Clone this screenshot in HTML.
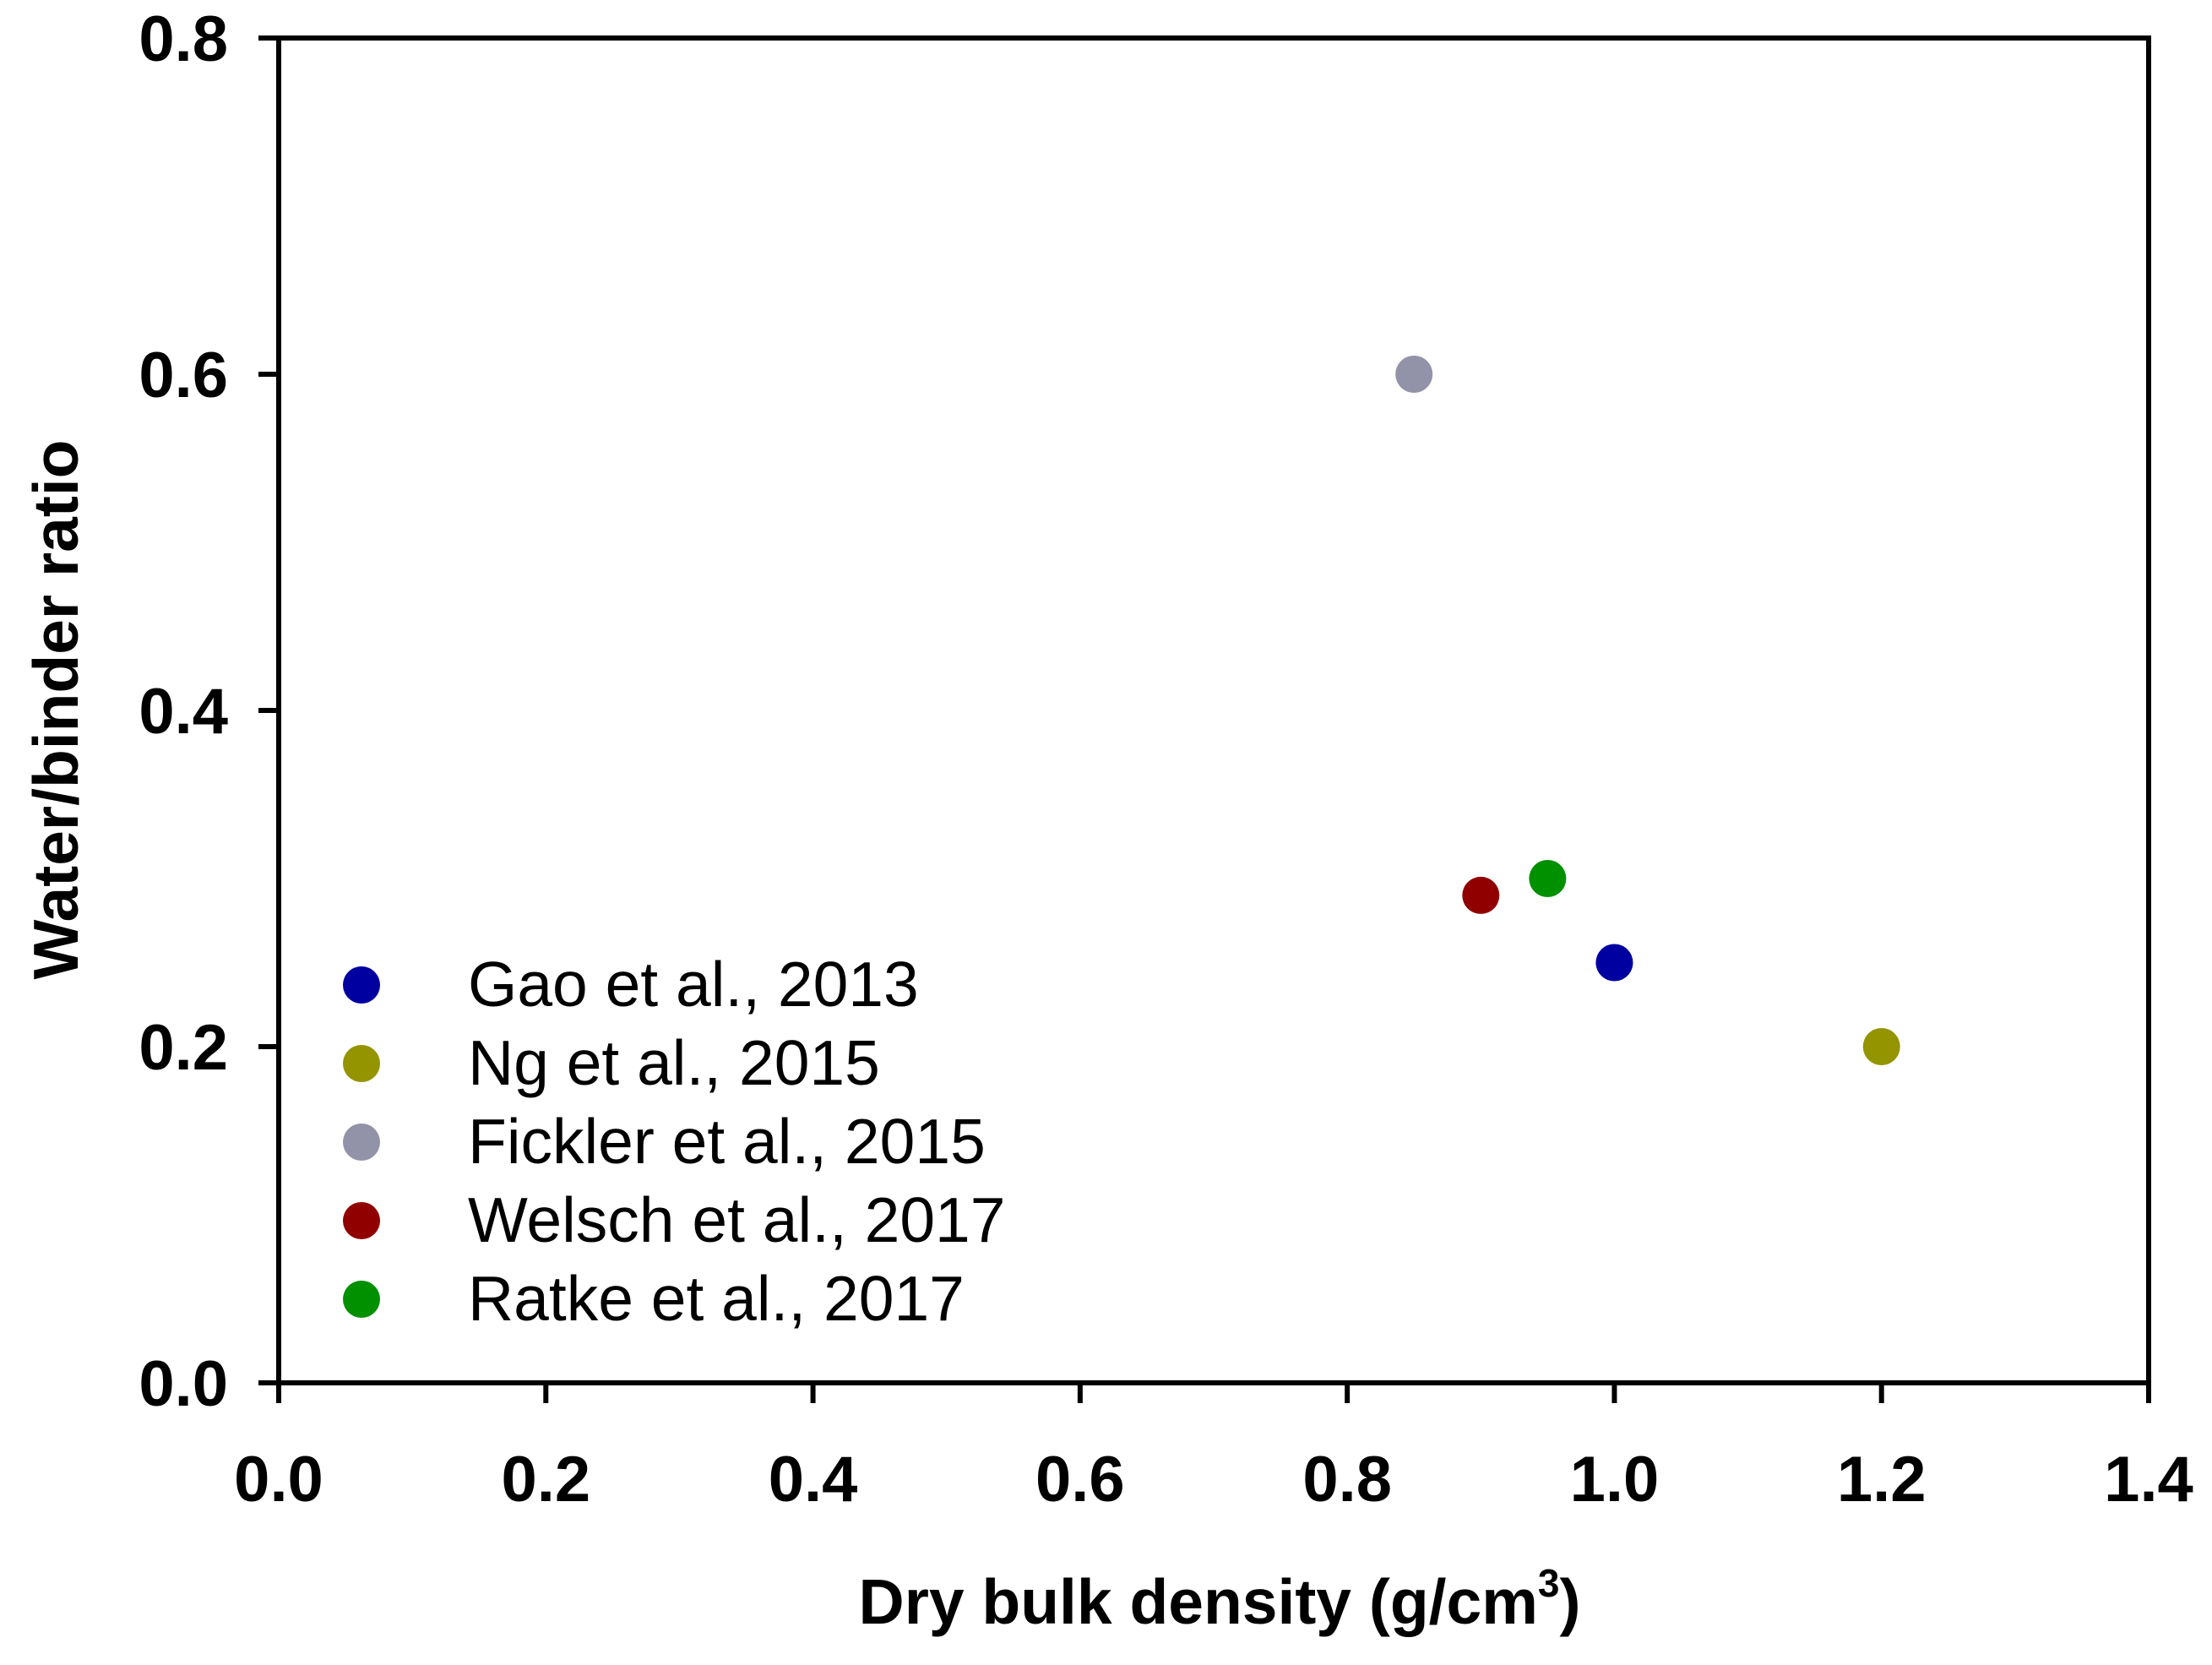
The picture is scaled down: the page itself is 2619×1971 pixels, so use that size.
<!DOCTYPE html>
<html><head><meta charset="utf-8"><style>
html,body{margin:0;padding:0;background:#fff;}
svg{display:block;font-family:"Liberation Sans",Arial,sans-serif;}
</style></head><body>
<svg id="chart" width="2619" height="1971" viewBox="0 0 2619 1971">
<g id="axes"></g>
<g id="marks"></g>
<g id="legend"></g>
<text x="1444" y="1922" text-anchor="middle" font-size="75" font-weight="bold">Dry bulk density (g/cm<tspan font-size="46" dy="-32">3</tspan><tspan dy="32">)</tspan></text>
<text transform="translate(92,840) rotate(-90)" text-anchor="middle" font-size="75" font-weight="bold">Water/binder ratio</text>
</svg>
<script>
const seriesNames = ["Gao et al., 2013","Ng et al., 2015","Fickler et al., 2015","Welsch et al., 2017","Ratke et al., 2017"];
const seriesColors = ["#0000a0","#949400","#9292a8","#900000","#009000"];
const xValues = [1.0, 1.2, 0.85, 0.9, 0.95];
const yValues = [0.25, 0.2, 0.6, 0.29, 0.30];
const xTicks = [0,0.2,0.4,0.6,0.8,1.0,1.2,1.4];
const yTicks = [0,0.2,0.4,0.6,0.8];
const xTickLabels = ["0.0","0.2","0.4","0.6","0.8","1.0","1.2","1.4"];
const yTickLabels = ["0.0","0.2","0.4","0.6","0.8"];

const L=330,R=2544,T=45,B=1637;
const xMin=0,xMax=1.4,yMin=0,yMax=0.8;
function sx(v){return L+(v-xMin)/(xMax-xMin)*(R-L);}
function sy(v){return B-(v-yMin)/(yMax-yMin)*(B-T);}
const NS="http://www.w3.org/2000/svg";
function mk(tag,attrs,parent){const e=document.createElementNS(NS,tag);for(const k in attrs)e.setAttribute(k,attrs[k]);parent.appendChild(e);return e;}
const axes=document.getElementById('axes');
const frame=mk('rect',{x:L,y:T,width:R-L,height:B-T,fill:'none',stroke:'#000','stroke-width':6},axes);


xTicks.forEach((v,i)=>{
  const t=mk('line',{x1:sx(v),x2:sx(v),y1:B,y2:B+24,stroke:'#000','stroke-width':6},axes);
  
  
  const lb=mk('text',{x:sx(v),y:1777,'text-anchor':'middle','font-size':76,'font-weight':'bold'},axes);
  lb.textContent=xTickLabels[i];
  
  
});
yTicks.forEach((v,i)=>{
  const t=mk('line',{x1:L-24,x2:L,y1:sy(v),y2:sy(v),stroke:'#000','stroke-width':6},axes);
  
  
  const lb=mk('text',{x:270,y:sy(v)+27,'text-anchor':'end','font-size':76,'font-weight':'bold'},axes);
  lb.textContent=yTickLabels[i];
  
  
});
const marks=document.getElementById('marks');
xValues.forEach((v,i)=>{
  const c=mk('circle',{cx:sx(v),cy:sy(yValues[i]),r:22,fill:seriesColors[i]},marks);
  
  
});
const legend=document.getElementById('legend');
const legY=[1166,1259,1352,1445,1538];
seriesNames.forEach((n,i)=>{
  const c=mk('circle',{cx:428,cy:legY[i],r:22,fill:seriesColors[i]},legend);
  
  
  const t=mk('text',{x:554,y:legY[i]+25,'font-size':75},legend);
  t.textContent=n;
  
  
});
</script>
</body></html>
